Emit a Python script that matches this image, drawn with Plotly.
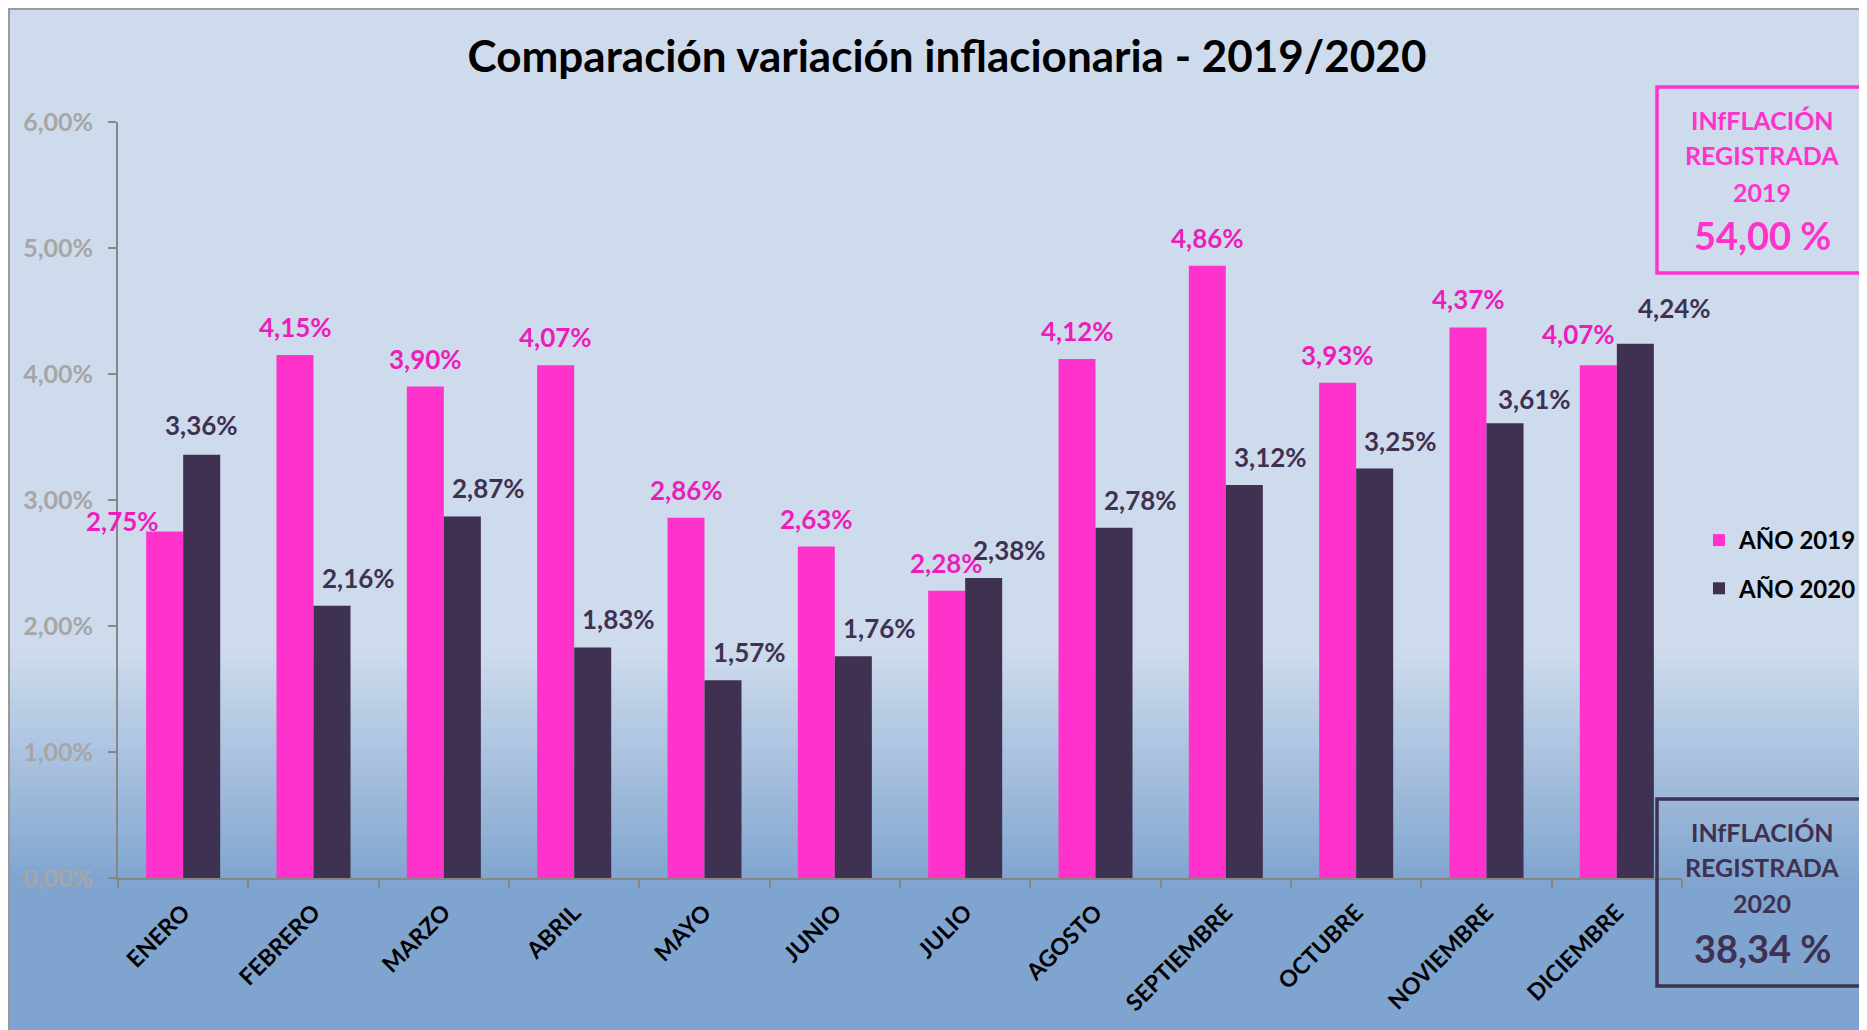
import plotly.graph_objects as go

# ---------------- data ----------------
meses = ["ENERO", "FEBRERO", "MARZO", "ABRIL", "MAYO", "JUNIO", "JULIO",
         "AGOSTO", "SEPTIEMBRE", "OCTUBRE", "NOVIEMBRE", "DICIEMBRE"]
v2019 = [2.75, 4.15, 3.90, 4.07, 2.86, 2.63, 2.28, 4.12, 4.86, 3.93, 4.37, 4.07]
v2020 = [3.36, 2.16, 2.87, 1.83, 1.57, 1.76, 2.38, 2.78, 3.12, 3.25, 3.61, 4.24]
y_ticks = [0, 1, 2, 3, 4, 5, 6]
y_ticklabels = ["0,00%", "1,00%", "2,00%", "3,00%", "4,00%", "5,00%", "6,00%"]
series_names = ["AÑO 2019", "AÑO 2020"]
total_2019 = "54,00 %"
total_2020 = "38,34 %"
title_text = "Comparación variación inflacionaria - 2019/2020"

# ---------------- style ----------------
PINK = "#FF33CC"
PINK_TXT = "#EC1DBA"
DARK = "#3F3152"
AXIS = "#868686"
FONT = "Lato"

OFF = 8                      # page body margin
W, H = 1867 - OFF, 1030 - OFF
PL, PR, PT, PB = 118, 1682, 122, 878   # plot area in page pixels
L, T = PL - OFF, PT - OFF
R, B = (W + OFF) - PR, (H + OFF) - PB


def px(x):
    return (x - PL) / (PR - PL)


def py(y):
    return (PB - y) / (PB - PT)


def fmt(v):
    return f"{v:.2f}".replace(".", ",") + "%"


fig = go.Figure()
fig.add_trace(go.Bar(x=meses, y=v2019, name=series_names[0],
                     marker=dict(color=PINK, line=dict(width=0)),
                     legendgroup="a"))
fig.add_trace(go.Bar(x=meses, y=v2020, name=series_names[1],
                     marker=dict(color=DARK, line=dict(width=0)),
                     legendgroup="b"))

# data labels (offsets in pixels: x shift, distance above bar top)
half = 18.5
off19 = {0: (-42, 11), 11: (-20, 31)}
off20 = {0: (0, 30), 10: (29, 24), 11: (39, 36)}
annotations = []
for i, m in enumerate(meses):
    dx, dy = off19.get(i, (0, 28))
    annotations.append(dict(x=m, y=v2019[i], xref="x", yref="y", text=fmt(v2019[i]),
                            showarrow=False, xshift=-half + dx, yshift=dy,
                            yanchor="middle", xanchor="center",
                            font=dict(family=FONT, size=26, color=PINK_TXT, weight="bold")))
    dx, dy = off20.get(i, (26, 28))
    annotations.append(dict(x=m, y=v2020[i], xref="x", yref="y", text=fmt(v2020[i]),
                            showarrow=False, xshift=half + dx, yshift=dy,
                            yanchor="middle", xanchor="center",
                            font=dict(family=FONT, size=26, color=DARK, weight="bold")))

# summary boxes text
box_cx = 1762
for txt, yy, sz, col in [("INfFLACIÓN", 120, 25, PINK), ("REGISTRADA", 155, 25, PINK),
                         ("2019", 192, 25, PINK), (total_2019, 235, 38, PINK),
                         ("INfFLACIÓN", 832, 25, DARK), ("REGISTRADA", 867, 25, DARK),
                         ("2020", 903, 25, DARK), (total_2020, 948, 38, DARK)]:
    annotations.append(dict(x=px(box_cx), y=py(yy), xref="paper", yref="paper", text=txt,
                            showarrow=False, xanchor="center", yanchor="middle",
                            font=dict(family=FONT, size=sz, color=col, weight="bold")))

# background & frames
shapes = []
top_c = (0xCE, 0xDB, 0xEC)
bot_c = (0x7F, 0xA4, 0xCF)
g0, g1 = 650, 885
X0, X1 = px(9), px(W + OFF + 5)
shapes.append(dict(type="rect", xref="paper", yref="paper", x0=X0, x1=X1,
                   y0=py(9), y1=py(g0), fillcolor="rgb(%d,%d,%d)" % top_c,
                   line=dict(width=0), layer="below"))
n = 24
for k in range(n):
    t = (k + 0.5) / n
    c = tuple(round(top_c[j] + (bot_c[j] - top_c[j]) * t) for j in range(3))
    ya = g0 + (g1 - g0) * k / n
    yb = g0 + (g1 - g0) * (k + 1) / n + 1
    shapes.append(dict(type="rect", xref="paper", yref="paper", x0=X0, x1=X1,
                       y0=py(ya), y1=py(yb), fillcolor="rgb(%d,%d,%d)" % c,
                       line=dict(width=0), layer="below"))
shapes.append(dict(type="rect", xref="paper", yref="paper", x0=X0, x1=X1,
                   y0=py(g1), y1=py(H + OFF + 5), fillcolor="rgb(%d,%d,%d)" % bot_c,
                   line=dict(width=0), layer="below"))
shapes.append(dict(type="rect", xref="paper", yref="paper", x0=X0, x1=X1,
                   y0=py(9), y1=py(H + OFF + 5), fillcolor="rgba(0,0,0,0)",
                   line=dict(width=2, color="#9A9A9A"), layer="below"))
# summary boxes
shapes.append(dict(type="rect", xref="paper", yref="paper", x0=px(1657), x1=px(W + OFF + 10),
                   y0=py(87), y1=py(273), line=dict(width=3.5, color=PINK),
                   fillcolor="rgba(0,0,0,0)", layer="above"))
shapes.append(dict(type="rect", xref="paper", yref="paper", x0=px(1657), x1=px(W + OFF + 10),
                   y0=py(799), y1=py(986), line=dict(width=3.5, color=DARK),
                   fillcolor="rgba(0,0,0,0)", layer="above"))

fig.update_layout(
    width=W, height=H,
    margin=dict(l=L, r=R, t=T, b=B, autoexpand=False),
    paper_bgcolor="white",
    plot_bgcolor="rgba(0,0,0,0)",
    barmode="group", bargap=0.432, bargroupgap=0,
    title=dict(text=title_text, x=(947 - OFF) / W, y=1 - (57 - OFF) / H,
               xanchor="center", yanchor="middle",
               xref="container", yref="container",
               font=dict(family=FONT, size=44, color="black", weight="bold")),
    showlegend=True,
    legend=dict(x=px(1862), y=py(518), xanchor="right", yanchor="top",
                bgcolor="rgba(0,0,0,0)", tracegroupgap=14,
                font=dict(family=FONT, size=24, color="black", weight="bold"),
                itemwidth=30),
    xaxis=dict(range=[-0.5, 11.5], autorange=False,
               showline=True, linecolor=AXIS, linewidth=2, ticks="outside",
               tickson="boundaries", ticklen=8, tickcolor=AXIS, tickwidth=2,
               tickangle=-45, showgrid=False, ticklabelstandoff=10,
               tickfont=dict(family=FONT, size=23, color="black", weight="bold")),
    yaxis=dict(range=[0, 6], autorange=False, tickvals=y_ticks, ticktext=y_ticklabels,
               showline=True, linecolor=AXIS, linewidth=2, ticks="outside",
               ticklen=8, tickcolor=AXIS, tickwidth=2, showgrid=False, zeroline=False,
               ticklabelstandoff=10,
               tickfont=dict(family=FONT, size=25, color="#A6A6A6", weight="bold")),
    annotations=annotations,
    shapes=shapes,
)

fig.write_html("out.html")
